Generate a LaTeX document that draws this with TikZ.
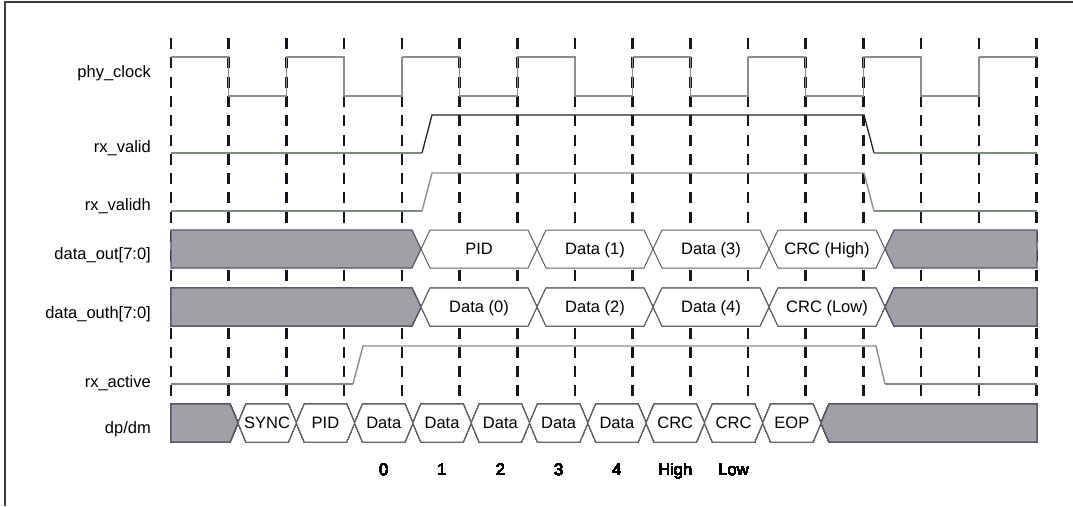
\documentclass[tikz,border=0pt]{standalone}
\usepackage{fontspec}
\setmainfont{Liberation Sans}
\definecolor{tdgrid}{RGB}{22,22,34}
\definecolor{tdclk}{RGB}{140,140,140}
\definecolor{tdlow}{RGB}{122,140,122}
\definecolor{tdhigh}{RGB}{35,35,35}
\definecolor{tdfill}{RGB}{161,160,166}
\definecolor{tdedge}{RGB}{85,85,105}
\definecolor{tdhex}{RGB}{95,95,95}
\definecolor{tdframe}{RGB}{60,60,60}
\tikzset{
  gridline/.style={draw=tdgrid,line width=2.6pt,dash pattern=on 11pt off 8.3pt},
  clkline/.style={draw=tdclk,line width=1.4pt},
  lowline/.style={draw=tdlow,line width=1.2pt},
  highline/.style={draw=tdhigh,line width=1.3pt},
  hexcell/.style={draw=tdhex,fill=white,line width=1pt},
  voidcell/.style={draw=tdedge,fill=tdfill,line width=1.2pt},
  siglabel/.style={anchor=base east,inner sep=0pt,font=\fontsize{16.5}{18}\selectfont},
  hexfont/.style={anchor=base,inner sep=0pt,font=\fontsize{16.5}{18}\selectfont},
}
% x of clock edge #1
\newcommand{\gx}[1]{171+57.7*#1}
\newcommand{\tdlabel}[3]{\node[siglabel] (#1) at (151,#2) {#3};}
% name, top, left tip, right tip, half width, text
\newcommand{\bushex}[6]{%
  \draw[hexcell] ({#3},{#2+19}) -- ({#3+#5},{#2}) -- ({#4-#5},{#2})
    -- ({#4},{#2+19}) -- ({#4-#5},{#2+38}) -- ({#3+#5},{#2+38}) -- cycle;
  \node[hexfont] (#1) at ({(#3+#4)/2},{#2+24}) {#6};}
\newcommand{\voidleft}[3]{%
  \draw[voidcell] (171,{#1}) -- ({#2-#3},{#1}) -- ({#2},{#1+19})
    -- ({#2-#3},{#1+38}) -- (171,{#1+38}) -- cycle;}
\newcommand{\voidright}[3]{%
  \draw[voidcell] ({#2},{#1+19}) -- ({#2+#3},{#1}) -- (1037,{#1})
    -- (1037,{#1+38}) -- ({#2+#3},{#1+38}) -- cycle;}
\begin{document}
\begin{tikzpicture}[x=1pt,y=-1pt]
  \useasboundingbox (0,0) rectangle (1073,506);
  \draw[tdframe,line width=1.6pt] (1073,2) -- (5,2) -- (5,506);
  % clock edges
  \foreach \i in {0,...,15}
    \draw[gridline] ({\gx{\i}},38) -- ({\gx{\i}},400);
  % phy_clock
  \foreach \i in {0,2,...,12}
    \draw[clkline] ({\gx{\i}},57) -- ({\gx{(\i+1)}},57) -- ({\gx{(\i+1)}},96)
      -- ({\gx{(\i+2)}},96) -- ({\gx{(\i+2)}},57);
  \draw[clkline] ({\gx{14}},57) -- ({\gx{15}},57);
  % rx_valid
  \draw[lowline] (171,153) -- (422,153);
  \draw[highline] (422,153) -- (432,115) -- (864,115) -- (874,153);
  \draw[lowline] (874,153) -- (1037,153);
  % rx_validh
  \draw[lowline] (171,211) -- (422,211);
  \draw[clkline] (422,211) -- (432,173) -- (864,173) -- (874,211);
  \draw[lowline] (874,211) -- (1037,211);
  % rx_active
  \draw[lowline] (171,384) -- (353,384);
  \draw[clkline] (353,384) -- (363,346) -- (876,346) -- (885,384);
  \draw[lowline] (885,384) -- (1037,384);
  % data_out / data_outh
  \voidleft{230}{421}{9}\voidright{230}{885}{9}
  \foreach \n/\t [count=\k from 0] in {pid/PID,dat1/Data (1),dat3/Data (3),crch/CRC (High)}
    \bushex{out\n}{230}{421+116*\k}{537+116*\k}{9}{\t}
  \voidleft{288}{421}{9}\voidright{288}{885}{9}
  \foreach \n/\t [count=\k from 0] in {dat0/Data (0),dat2/Data (2),dat4/Data (4),crcl/CRC (Low)}
    \bushex{outh\n}{288}{421+116*\k}{537+116*\k}{9}{\t}
  % dp/dm
  \voidleft{404}{238}{8}\voidright{404}{821}{8}
  \foreach \n/\t [count=\k from 0] in {sync/SYNC,pid/PID,d0/Data,d1/Data,d2/Data,
      d3/Data,d4/Data,crch/CRC,crcl/CRC,eop/EOP}
    \bushex{dp\n}{404}{238+58.3*\k}{296.3+58.3*\k}{8}{\t}
  \foreach \t [count=\k from 2] in {0,1,2,3,4,High,Low}
    \node[hexfont] (num\k) at ({267.15+58.3*\k},475) {\t};
  % signal names
  \tdlabel{lclk}{77}{phy\_clock}
  \tdlabel{lvalid}{152}{rx\_valid}
  \tdlabel{lvalidh}{210}{rx\_validh}
  \tdlabel{lout}{259}{data\_out[7:0]}
  \tdlabel{louth}{318}{data\_outh[7:0]}
  \tdlabel{lactive}{387}{rx\_active}
  \tdlabel{ldp}{433}{dp/dm}
\end{tikzpicture}
\end{document}
